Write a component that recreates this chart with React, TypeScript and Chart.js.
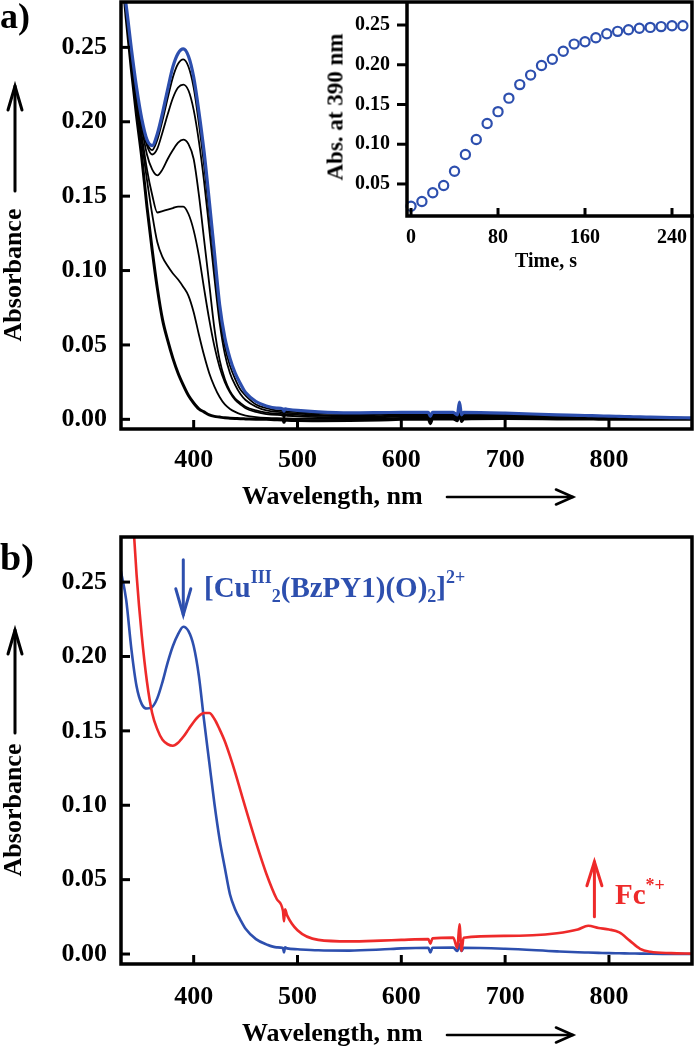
import React, { useEffect, useRef } from "react";
import { Chart, registerables } from "chart.js";

Chart.register(...registerables);

// ---------- data ----------
const wavelengths = [330, 335, 340, 345, 350, 355, 360, 365, 370, 375, 380, 385, 390, 395, 400, 405, 410, 415, 420, 425, 430, 435, 440, 445, 450, 460, 470, 480, 486, 487, 488, 490, 500, 520, 550, 580, 600, 626, 628, 630, 650, 654, 656, 658, 660, 700, 750, 770, 780, 790, 800, 810, 820, 830, 840, 860, 880];

// panel a: spectra recorded during the reaction (black), final spectrum (blue)
const aInitial = [0.31, 0.27, 0.235, 0.204, 0.176, 0.143, 0.114, 0.088, 0.067, 0.053, 0.041, 0.031, 0.023, 0.016, 0.011, 0.007, 0.005, 0.003, 0.002, 0.0015, 0.001, 0.0008, 0.0006, 0.0004, 0.0003, 0.0001, 0, -0.0003, -0.0005, -0.002, -0.0005, -0.0006, -0.0008, -0.0009, -0.0008, -0.0004, 0, 0.0002, -0.003, 0.0002, 0.0003, -0.001, 0.004, -0.0015, 0.0003, 0.0005, 0.0003, 0.0002, 0.0002, 0.0001, 0.0001, 0, 0, 0, 0, 0, 0];
const aStep1 = [0.30, 0.272, 0.241, 0.212, 0.186, 0.161, 0.138, 0.119, 0.109, 0.103, 0.098, 0.094, 0.089, 0.083, 0.072, 0.057, 0.043, 0.031, 0.022, 0.015, 0.010, 0.007, 0.005, 0.0035, 0.0025, 0.0015, 0.001, 0.0008, 0.0007, -0.001, 0.0007, 0.0006, 0.0005, 0.0003, 0.0003, 0.0006, 0.001, 0.0012, -0.002, 0.0012, 0.0012, 0, 0.005, -0.0005, 0.0012, 0.001, 0.0006, 0.0005, 0.0005, 0.0004, 0.0004, 0.0003, 0.0003, 0.0002, 0.0002, 0.0001, 0.0001];
const aStep2 = [0.30, 0.273, 0.243, 0.215, 0.191, 0.168, 0.151, 0.139, 0.140, 0.141, 0.142, 0.143, 0.143, 0.138, 0.127, 0.110, 0.088, 0.067, 0.049, 0.035, 0.025, 0.018, 0.013, 0.010, 0.0075, 0.005, 0.0035, 0.003, 0.0025, 0.0005, 0.0025, 0.0024, 0.002, 0.0015, 0.0012, 0.0015, 0.002, 0.0022, -0.001, 0.0022, 0.0022, 0.0005, 0.006, 0.0005, 0.0022, 0.0018, 0.0012, 0.001, 0.0009, 0.0008, 0.0008, 0.0007, 0.0006, 0.0005, 0.0005, 0.0004, 0.0003];
const aStep3 = [0.30, 0.274, 0.245, 0.218, 0.196, 0.178, 0.168, 0.164, 0.168, 0.175, 0.181, 0.186, 0.188, 0.185, 0.175, 0.151, 0.121, 0.091, 0.061, 0.040, 0.027, 0.019, 0.014, 0.011, 0.0085, 0.006, 0.0045, 0.0038, 0.0035, 0.0015, 0.0035, 0.0034, 0.003, 0.0023, 0.002, 0.0022, 0.0027, 0.0028, 0, 0.0028, 0.0028, 0.001, 0.007, 0.001, 0.0028, 0.0024, 0.0016, 0.0013, 0.0012, 0.0011, 0.001, 0.0009, 0.0008, 0.0007, 0.0006, 0.0005, 0.0004];
const aStep4 = [0.30, 0.276, 0.247, 0.221, 0.199, 0.184, 0.178, 0.182, 0.193, 0.205, 0.216, 0.223, 0.225, 0.221, 0.208, 0.187, 0.160, 0.128, 0.095, 0.065, 0.044, 0.031, 0.023, 0.017, 0.013, 0.0085, 0.006, 0.005, 0.0045, 0.0025, 0.0045, 0.0044, 0.004, 0.003, 0.0027, 0.003, 0.0033, 0.0034, 0.0005, 0.0034, 0.0034, 0.0015, 0.0085, 0.0015, 0.0034, 0.003, 0.002, 0.0017, 0.0016, 0.0015, 0.0014, 0.0013, 0.0012, 0.0011, 0.001, 0.0008, 0.0007];
const aStep5 = [0.30, 0.277, 0.248, 0.222, 0.201, 0.186, 0.181, 0.188, 0.201, 0.216, 0.230, 0.239, 0.242, 0.237, 0.223, 0.199, 0.171, 0.138, 0.104, 0.071, 0.049, 0.036, 0.027, 0.020, 0.016, 0.010, 0.0075, 0.006, 0.0055, 0.0035, 0.0055, 0.0054, 0.0048, 0.004, 0.0035, 0.0037, 0.004, 0.004, 0.001, 0.004, 0.004, 0.002, 0.010, 0.002, 0.004, 0.0035, 0.0025, 0.0022, 0.002, 0.0019, 0.0018, 0.0017, 0.0016, 0.0015, 0.0014, 0.0012, 0.001];
const aFinal = [0.30, 0.278, 0.249, 0.223, 0.202, 0.188, 0.184, 0.192, 0.206, 0.222, 0.237, 0.246, 0.249, 0.244, 0.230, 0.207, 0.180, 0.147, 0.112, 0.077, 0.055, 0.041, 0.031, 0.024, 0.018, 0.012, 0.009, 0.0075, 0.007, 0.0055, 0.007, 0.0068, 0.006, 0.005, 0.0043, 0.0045, 0.0047, 0.0047, 0.002, 0.0047, 0.0047, 0.003, 0.0115, 0.003, 0.0047, 0.0042, 0.003, 0.0027, 0.0025, 0.0023, 0.0022, 0.002, 0.0018, 0.0016, 0.0015, 0.0012, 0.001];

// panel b
const bCuO = [0.257, 0.238, 0.205, 0.180, 0.168, 0.165, 0.166, 0.172, 0.183, 0.196, 0.207, 0.215, 0.220, 0.217, 0.207, 0.187, 0.157, 0.129, 0.101, 0.077, 0.058, 0.040, 0.030, 0.023, 0.017, 0.010, 0.0065, 0.0045, 0.004, 0.001, 0.0045, 0.0038, 0.0032, 0.0025, 0.0023, 0.003, 0.0038, 0.0042, 0.001, 0.0042, 0.0043, 0.002, 0.0065, 0.002, 0.0042, 0.0035, 0.0018, 0.0012, 0.001, 0.0008, 0.0006, 0.0005, 0.0004, 0.0003, 0.0002, 0.0001, 0];
const bFc = [0.40, 0.36, 0.31, 0.255, 0.214, 0.183, 0.162, 0.151, 0.144, 0.141, 0.140, 0.142, 0.146, 0.151, 0.156, 0.160, 0.162, 0.162, 0.158, 0.151, 0.143, 0.133, 0.122, 0.110, 0.098, 0.075, 0.054, 0.037, 0.029, 0.022, 0.030, 0.026, 0.016, 0.0095, 0.0085, 0.009, 0.0095, 0.010, 0.007, 0.0105, 0.011, 0.004, 0.020, 0.002, 0.011, 0.0122, 0.014, 0.0165, 0.019, 0.0175, 0.0165, 0.0145, 0.009, 0.0035, 0.0015, 0.0006, 0.0003];

// inset: absorbance at 390 nm vs time
const timeS = [0, 10, 20, 30, 40, 50, 60, 70, 80, 90, 100, 110, 120, 130, 140, 150, 160, 170, 180, 190, 200, 210, 220, 230, 240, 250];
const abs390 = [0.022, 0.028, 0.039, 0.048, 0.066, 0.087, 0.106, 0.126, 0.141, 0.158, 0.175, 0.187, 0.199, 0.207, 0.217, 0.226, 0.229, 0.234, 0.239, 0.242, 0.244, 0.246, 0.247, 0.248, 0.249, 0.249];

// ticks
const xTicks = [400, 500, 600, 700, 800];
const yTicks = [0, 0.05, 0.1, 0.15, 0.2, 0.25];
const insetXTicks = [0, 80, 160, 240];
const insetYTicks = [0.05, 0.1, 0.15, 0.2, 0.25];

// annotation arrows (data units of panel b)
const cuArrow = { wl: 390, from: 0.265, to: 0.228 };
const fcArrow = { wl: 786, from: 0.025, to: 0.062 };

// ---------- style ----------
const FONT = "'Liberation Serif', 'Times New Roman', Times, serif";
const BLUE = "#2d4fae";
const RED = "#ee2a2a";

function pts(ys: number[]) {
  return wavelengths.map((x, i) => ({ x, y: ys[i] }));
}

function noPad(s: any) {
  s.paddingTop = 0;
  s.paddingBottom = 0;
  s.paddingLeft = 0;
  s.paddingRight = 0;
}

function drawArrow(ctx: CanvasRenderingContext2D, x1: number, y1: number, x2: number, y2: number, headLen: number, headHalf: number, width: number, color: string) {
  const ang = Math.atan2(y2 - y1, x2 - x1);
  ctx.save();
  ctx.strokeStyle = color;
  ctx.lineWidth = width;
  ctx.lineCap = "round";
  ctx.lineJoin = "miter";
  ctx.beginPath();
  ctx.moveTo(x1, y1);
  ctx.lineTo(x2, y2);
  ctx.stroke();
  const bx = x2 - headLen * Math.cos(ang);
  const by = y2 - headLen * Math.sin(ang);
  const nx = -Math.sin(ang) * headHalf;
  const ny = Math.cos(ang) * headHalf;
  ctx.beginPath();
  ctx.moveTo(bx + nx, by + ny);
  ctx.lineTo(x2, y2);
  ctx.lineTo(bx - nx, by - ny);
  ctx.stroke();
  ctx.restore();
}

function framePlugin(opts: { box: boolean; yOutward?: boolean; xLen: number; yLen: number; extra?: (chart: any) => void }) {
  return {
    id: "frame",
    afterDraw(chart: any) {
      const { ctx, chartArea: a, scales } = chart;
      ctx.save();
      ctx.strokeStyle = "#000";
      ctx.lineWidth = 3.5;
      ctx.lineCap = "square";
      if (opts.box) {
        ctx.strokeRect(a.left, a.top, a.right - a.left, a.bottom - a.top);
      } else {
        ctx.beginPath();
        ctx.moveTo(a.left, a.top);
        ctx.lineTo(a.left, a.bottom);
        ctx.lineTo(a.right, a.bottom);
        ctx.stroke();
      }
      ctx.lineWidth = 3;
      ctx.lineCap = "butt";
      for (const t of scales.x.ticks) {
        const px = scales.x.getPixelForValue(t.value);
        ctx.beginPath();
        ctx.moveTo(px, a.bottom);
        ctx.lineTo(px, a.bottom - opts.xLen);
        ctx.stroke();
      }
      for (const t of scales.y.ticks) {
        const py = scales.y.getPixelForValue(t.value);
        ctx.beginPath();
        ctx.moveTo(a.left, py);
        ctx.lineTo(opts.yOutward ? a.left - opts.yLen : a.left + opts.yLen, py);
        ctx.stroke();
      }
      ctx.restore();
      if (opts.extra) opts.extra(chart);
    },
  };
}

function spectrumOptions(xHeight: number, topPad: number, xPad: number, yMin: number, yMax: number) {
  return {
    animation: false as const,
    responsive: false,
    devicePixelRatio: 1,
    layout: { padding: { top: topPad, right: 3, left: 0, bottom: 0 }, autoPadding: false },
    elements: {
      point: { radius: 0 },
      line: { cubicInterpolationMode: "monotone" as const, borderJoinStyle: "round" as const, borderCapStyle: "round" as const },
    },
    plugins: { legend: { display: false }, tooltip: { enabled: false } },
    scales: {
      x: {
        type: "linear" as const,
        min: 330,
        max: 880,
        grid: { display: false, drawTicks: false },
        border: { display: false },
        ticks: {
          font: { family: FONT, size: 26, weight: "bold" as const },
          color: "#000",
          padding: xPad,
          maxRotation: 0,
          autoSkip: false,
          callback: (v: any) => String(v),
        },
        afterBuildTicks: (s: any) => {
          s.ticks = xTicks.map((v) => ({ value: v }));
        },
        afterFit: (s: any) => {
          s.height = xHeight;
          noPad(s);
        },
      },
      y: {
        type: "linear" as const,
        min: yMin,
        max: yMax,
        grid: { display: false, drawTicks: false },
        border: { display: false },
        ticks: {
          font: { family: FONT, size: 26, weight: "bold" as const },
          color: "#000",
          padding: 14,
          autoSkip: false,
          callback: (v: any) => Number(v).toFixed(2),
        },
        afterBuildTicks: (s: any) => {
          s.ticks = yTicks.map((v) => ({ value: v }));
        },
        afterFit: (s: any) => {
          s.width = 121;
          noPad(s);
        },
      },
    },
  };
}

const txt: React.CSSProperties = {
  position: "absolute",
  fontFamily: FONT,
  fontWeight: "bold",
  lineHeight: 1,
  whiteSpace: "nowrap",
  color: "#000",
  margin: 0,
};

const sup = (size: number, raise: number): React.CSSProperties => ({ position: "relative", fontSize: size, top: -raise, lineHeight: 0 });
const sub = (size: number, lower: number): React.CSSProperties => ({ position: "relative", fontSize: size, top: lower, lineHeight: 0 });

export default function App() {
  const refA = useRef<HTMLCanvasElement>(null);
  const refI = useRef<HTMLCanvasElement>(null);
  const refB = useRef<HTMLCanvasElement>(null);

  useEffect(() => {
    document.body.style.margin = "0";
    const charts: Chart[] = [];

    // panel a
    charts.push(
      new Chart(refA.current!, {
        type: "line",
        data: {
          datasets: [
            { data: pts(aFinal), borderColor: BLUE, borderWidth: 3.2, pointRadius: 0, fill: false },
            { data: pts(aStep5), borderColor: "#000", borderWidth: 1.8, pointRadius: 0, fill: false },
            { data: pts(aStep4), borderColor: "#000", borderWidth: 1.8, pointRadius: 0, fill: false },
            { data: pts(aStep3), borderColor: "#000", borderWidth: 1.8, pointRadius: 0, fill: false },
            { data: pts(aStep2), borderColor: "#000", borderWidth: 1.8, pointRadius: 0, fill: false },
            { data: pts(aStep1), borderColor: "#000", borderWidth: 1.8, pointRadius: 0, fill: false },
            { data: pts(aInitial), borderColor: "#000", borderWidth: 3, pointRadius: 0, fill: false },
          ],
        },
        options: spectrumOptions(91, 2, 16, -0.0065, 0.2805) as any,
        plugins: [
          framePlugin({
            box: true,
            xLen: 9,
            yLen: 9,
            extra: (chart: any) => {
              const ctx = chart.ctx;
              drawArrow(ctx, 15, 191, 15, 86, 24, 7, 3, "#000");
              drawArrow(ctx, 447, 497, 573, 497, 17, 7.5, 2.6, "#000");
            },
          }),
        ],
      })
    );

    // inset
    charts.push(
      new Chart(refI.current!, {
        type: "scatter",
        data: {
          datasets: [
            {
              data: timeS.map((t, i) => ({ x: t, y: abs390[i] })),
              showLine: false,
              pointRadius: 4.6,
              pointBorderWidth: 2.2,
              pointBorderColor: BLUE,
              pointBackgroundColor: "rgba(255,255,255,0)",
              clip: false as any,
            },
          ],
        },
        options: {
          animation: false,
          responsive: false,
          devicePixelRatio: 1,
          layout: { padding: { top: 3, right: 3, left: 0, bottom: 0 }, autoPadding: false },
          plugins: { legend: { display: false }, tooltip: { enabled: false } },
          scales: {
            x: {
              type: "linear",
              min: -3.7,
              max: 258.4,
              grid: { display: false, drawTicks: false },
              border: { display: false },
              ticks: { font: { family: FONT, size: 20, weight: "bold" }, color: "#000", padding: 10, maxRotation: 0, autoSkip: false, callback: (v: any) => String(v) },
              afterBuildTicks: (s: any) => {
                s.ticks = insetXTicks.map((v) => ({ value: v }));
              },
              afterFit: (s: any) => {
                s.height = 64;
                noPad(s);
              },
            },
            y: {
              type: "linear",
              min: 0.0097,
              max: 0.2777,
              grid: { display: false, drawTicks: false },
              border: { display: false },
              ticks: { font: { family: FONT, size: 20, weight: "bold" }, color: "#000", padding: 17, autoSkip: false, callback: (v: any) => Number(v).toFixed(2) },
              afterBuildTicks: (s: any) => {
                s.ticks = insetYTicks.map((v) => ({ value: v }));
              },
              afterFit: (s: any) => {
                s.width = 107;
                noPad(s);
              },
            },
          },
        } as any,
        plugins: [framePlugin({ box: false, yOutward: true, xLen: 8, yLen: 10 })],
      })
    );

    // panel b
    charts.push(
      new Chart(refB.current!, {
        type: "line",
        data: {
          datasets: [
            { data: pts(bFc), borderColor: RED, borderWidth: 2.6, pointRadius: 0, fill: false },
            { data: pts(bCuO), borderColor: BLUE, borderWidth: 2.6, pointRadius: 0, fill: false },
          ],
        },
        options: spectrumOptions(86, 7, 18, -0.0067, 0.2803) as any,
        plugins: [
          framePlugin({
            box: true,
            xLen: 9,
            yLen: 9,
            extra: (chart: any) => {
              const ctx = chart.ctx;
              const { x, y } = chart.scales;
              drawArrow(ctx, 15, 203, 15, 100, 24, 7, 3, "#000");
              drawArrow(ctx, 447, 505, 573, 505, 17, 7.5, 2.6, "#000");
              const cx = x.getPixelForValue(cuArrow.wl);
              drawArrow(ctx, cx, y.getPixelForValue(cuArrow.from), cx, y.getPixelForValue(cuArrow.to), 26, 7.5, 3, BLUE);
              const fx = x.getPixelForValue(fcArrow.wl);
              drawArrow(ctx, fx, y.getPixelForValue(fcArrow.from), fx, y.getPixelForValue(fcArrow.to), 24, 7.5, 3, RED);
            },
          }),
        ],
      })
    );

    return () => charts.forEach((c) => c.destroy());
  }, []);

  const rot = (cx: number, cy: number, size: number): React.CSSProperties => ({
    ...txt,
    fontSize: size,
    left: cx,
    top: cy,
    transform: "translate(-50%, -50%) rotate(-90deg)",
  });

  return (
    <div style={{ position: "relative", width: 695, height: 1050, background: "#fff", overflow: "hidden" }}>
      <canvas ref={refA} width={695} height={520} style={{ position: "absolute", left: 0, top: 0, width: 695, height: 520 }} />
      <canvas ref={refB} width={695} height={520} style={{ position: "absolute", left: 0, top: 530, width: 695, height: 520 }} />
      <canvas ref={refI} width={395} height={280} style={{ position: "absolute", left: 300, top: 0, width: 395, height: 280 }} />

      <div style={{ ...txt, fontSize: 36, left: 0, top: -2 }}>a)</div>
      <div style={{ ...txt, fontSize: 38, left: 0, top: 538 }}>b)</div>

      <div style={rot(13.2, 275, 26)}>Absorbance</div>
      <div style={rot(13.2, 810, 26)}>Absorbance</div>

      <div style={{ ...txt, fontSize: 26, left: 242, top: 483 }}>Wavelength, nm</div>
      <div style={{ ...txt, fontSize: 26, left: 242, top: 1020 }}>Wavelength, nm</div>

      <div style={rot(334.5, 107, 23)}>Abs. at 390 nm</div>
      <div style={{ ...txt, fontSize: 20, left: 546, top: 250, transform: "translateX(-50%)" }}>Time, s</div>

      <div style={{ ...txt, fontSize: 29, left: 204, top: 573, color: BLUE }}>
        [Cu<span style={sup(18, 14)}>III</span>
        <span style={sub(18, 5)}>2</span>(BzPY1)(O)<span style={sub(18, 5)}>2</span>]<span style={sup(18, 14)}>2+</span>
      </div>
      <div style={{ ...txt, fontSize: 29, left: 615, top: 880, color: RED }}>
        Fc<span style={sup(18, 13)}>*+</span>
      </div>
    </div>
  );
}
